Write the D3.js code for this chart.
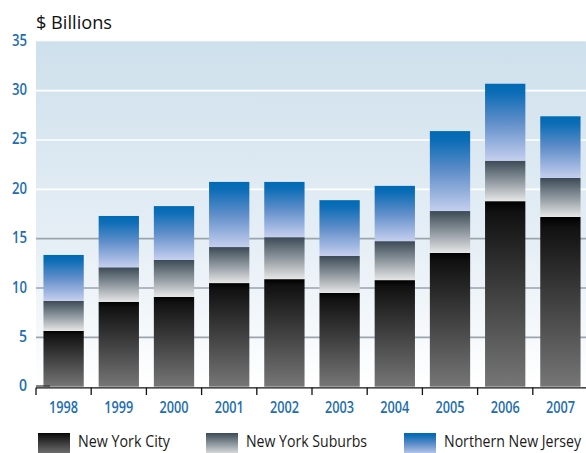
<!DOCTYPE html>
<html>
<head>
<meta charset="utf-8">
<script src="https://cdn.jsdelivr.net/npm/d3@7"></script>
<style>
    html, body { margin: 0; padding: 0; background: #ffffff; }
    svg { display: block; font-family: "Open Sans", sans-serif; }
    .ylabel, .xlabel { fill: #1d6db0; font-size: 16px; font-weight: 600; }
    .legendText { fill: #1a1a1a; font-size: 16px; }
</style>
</head>
<body>
<svg id="chart" width="586" height="453"></svg>
<script>
'use strict';

/* global d3 */

var years = ["1998", "1999", "2000", "2001", "2002", "2003", "2004", "2005", "2006", "2007"];
var newYorkCity = [5.65, 8.6, 9.1, 10.5, 10.9, 9.5, 10.8, 13.55, 18.8, 17.2];
var newYorkSuburbs = [3.05, 3.5, 3.75, 3.65, 4.25, 3.75, 3.95, 4.25, 4.1, 3.95];
var northernNewJersey = [4.65, 5.2, 5.45, 6.6, 5.6, 5.65, 5.6, 8.1, 7.8, 6.25];
var seriesKeys = ["nyc", "suburbs", "nj"];
var seriesNames = ["New York City", "New York Suburbs", "Northern New Jersey"];
var yTicks = [0, 5, 10, 15, 20, 25, 30, 35];

(function () {
    var svg = d3.select("#chart");
    var plotLeft = 36, plotRight = 588, plotTop = 41.3, plotBottom = 386.7;

    var x = d3.scaleBand()
        .domain(years)
        .range([plotLeft, plotRight])
        .paddingInner(0.27)
        .paddingOuter(0.135);

    var y = d3.scaleLinear()
        .domain([0, 35])
        .range([plotBottom, plotTop]);

    var rows = years.map(function (yr, i) {
        return { year: yr, nyc: newYorkCity[i], suburbs: newYorkSuburbs[i], nj: northernNewJersey[i] };
    });
    var stacked = d3.stack().keys(seriesKeys)(rows);

    var defs = svg.append("defs");

    function addGradient(id, stops) {
        var g = defs.append("linearGradient")
            .attr("id", id)
            .attr("x1", 0).attr("y1", 0)
            .attr("x2", 0).attr("y2", 1);
        stops.forEach(function (s) {
            g.append("stop").attr("offset", s[0]).attr("stop-color", s[1]);
        });
    }

    addGradient("bg", [[0, "#cee0ec"], [0.6, "#e7eff6"], [1, "#ffffff"]]);
    addGradient("nyc", [[0, "#000000"], [0.06, "#111111"], [1, "#767676"]]);
    addGradient("suburbs", [[0, "#3c4a56"], [0.5, "#8e979e"], [1, "#e6e6e6"]]);
    addGradient("nj", [[0, "#006ab5"], [0.12, "#0c6db6"], [0.5, "#5f8ec9"], [1, "#c5cfee"]]);

    // plot background
    svg.append("rect")
        .attr("x", plotLeft)
        .attr("y", plotTop)
        .attr("width", 586 - plotLeft)
        .attr("height", plotBottom - plotTop)
        .attr("fill", "url(#bg)");

    // gridlines, white on the blue part, grey on the light part
    svg.append("g")
        .selectAll("line")
        .data(yTicks.filter(function (d) { return d > 0 && d < 35; }))
        .enter()
        .append("line")
        .attr("x1", plotLeft)
        .attr("x2", 586)
        .attr("y1", function (d) { return y(d); })
        .attr("y2", function (d) { return y(d); })
        .attr("stroke", function (d) { return d > 15 ? "#ffffff" : "#9aa5ae"; })
        .attr("stroke-width", 1.6);

    // bars
    svg.append("g")
        .selectAll("g")
        .data(stacked)
        .enter()
        .append("g")
        .attr("fill", function (d) { return "url(#" + d.key + ")"; })
        .selectAll("rect")
        .data(function (d) { return d; })
        .enter()
        .append("rect")
        .attr("x", function (d) { return x(d.data.year); })
        .attr("width", x.bandwidth())
        .attr("y", function (d) { return y(d[1]); })
        .attr("height", function (d) { return y(d[0]) - y(d[1]); });

    // x axis line and ticks
    var axis = svg.append("g");
    axis.append("line")
        .attr("x1", plotLeft).attr("x2", 586)
        .attr("y1", 387.8).attr("y2", 387.8)
        .attr("stroke", "#111111")
        .attr("stroke-width", 1.3);
    axis.append("line")
        .attr("x1", plotLeft).attr("x2", 50)
        .attr("y1", 386).attr("y2", 386)
        .attr("stroke", "#333333")
        .attr("stroke-width", 1.2);
    axis.selectAll("line.tick")
        .data(years)
        .enter()
        .append("line")
        .attr("class", "tick")
        .attr("x1", function (d) { return x(d) - x.step() * x.paddingOuter(); })
        .attr("x2", function (d) { return x(d) - x.step() * x.paddingOuter(); })
        .attr("y1", 387.8)
        .attr("y2", 395)
        .attr("stroke", "#111111")
        .attr("stroke-width", 1.3);

    axis.selectAll("text")
        .data(years)
        .enter()
        .append("text")
        .attr("class", "xlabel")
        .attr("x", function (d) { return x(d) + x.bandwidth() / 2; })
        .attr("y", 412.5)
        .attr("text-anchor", "middle")
        .attr("textLength", 29)
        .attr("lengthAdjust", "spacingAndGlyphs")
        .text(function (d) { return d; });

    // y labels
    svg.append("g")
        .selectAll("text")
        .data(yTicks)
        .enter()
        .append("text")
        .attr("class", "ylabel")
        .attr("x", 27)
        .attr("y", function (d) { return y(d) + 4.5; })
        .attr("text-anchor", "end")
        .attr("textLength", function (d) { return d < 10 ? 8 : 15; })
        .attr("lengthAdjust", "spacingAndGlyphs")
        .text(function (d) { return d; });

    svg.append("text")
        .attr("x", 36)
        .attr("y", 28.5)
        .attr("font-size", "18px")
        .attr("fill", "#111111")
        .attr("textLength", 76)
        .attr("lengthAdjust", "spacingAndGlyphs")
        .text("$ Billions");

    // legend
    var legendX = [38, 206, 404];
    var legendTextWidth = [92, 121, 137];
    var legend = svg.append("g")
        .selectAll("g")
        .data(seriesKeys)
        .enter()
        .append("g")
        .attr("transform", function (d, i) { return "translate(" + legendX[i] + ",433)"; });

    legend.append("rect")
        .attr("width", 32)
        .attr("height", 22)
        .attr("fill", function (d) { return "url(#" + d + ")"; });

    legend.append("text")
        .attr("class", "legendText")
        .attr("x", 40)
        .attr("y", 13.5)
        .attr("textLength", function (d, i) { return legendTextWidth[i]; })
        .attr("lengthAdjust", "spacingAndGlyphs")
        .text(function (d, i) { return seriesNames[i]; });
})();
</script>
</body>
</html>
